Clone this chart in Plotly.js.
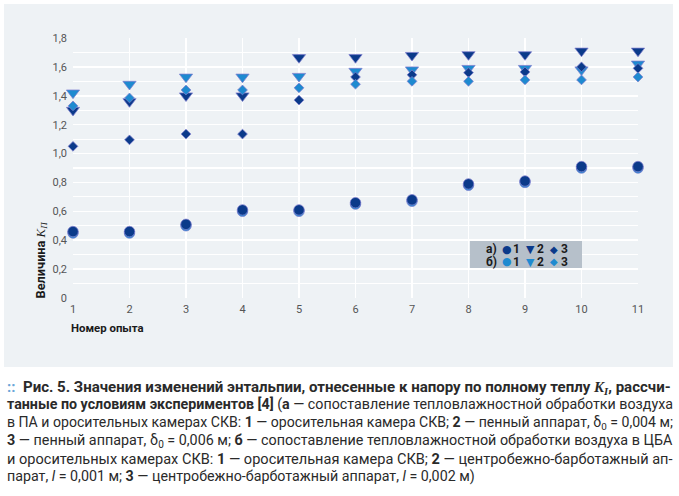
<!DOCTYPE html>
<html>
<head>
<meta charset="utf-8">
<script src="https://cdn.plot.ly/plotly-3.0.1.min.js"></script>
<style>
html,body{margin:0;padding:0;background:#fff;}
#chart{width:679px;height:496px;}
</style>
</head>
<body>
<div id="chart"></div>
<script>
// ---- data ----
var experiments = [1, 2, 3, 4, 5, 6, 7, 8, 9, 10, 11];
var a1 = [0.46, 0.46, 0.51, 0.61, 0.61, 0.66, 0.68, 0.79, 0.81, 0.91, 0.91];
var a2 = [1.30, 1.36, 1.40, 1.40, 1.665, 1.665, 1.68, 1.685, 1.685, 1.71, 1.71];
var a3 = [1.05, 1.095, 1.135, 1.135, 1.37, 1.53, 1.545, 1.56, 1.565, 1.60, 1.59];
var b1 = [0.45, 0.45, 0.50, 0.60, 0.60, 0.65, 0.67, 0.78, 0.80, 0.90, 0.90];
var b2 = [1.42, 1.48, 1.53, 1.53, 1.535, 1.57, 1.58, 1.59, 1.59, 1.58, 1.62];
var b3 = [1.33, 1.385, 1.44, 1.44, 1.455, 1.48, 1.50, 1.50, 1.51, 1.51, 1.53];

var yTickVals = [0, 0.2, 0.4, 0.6, 0.8, 1.0, 1.2, 1.4, 1.6, 1.8];
var yTickText = ['0', '0,2', '0,4', '0,6', '0,8', '1,0', '1,2', '1,4', '1,6', '1,8'];
var xTickVals = experiments;
var legendGroups = ['а)', 'б)'];
var legendNumbers = ['1', '2', '3'];
var legendGlyphs = ['●', '▼', '◆'];

var DARK = '#0b3a8a';
var LIGHT = '#1e8ad0';
var EDGE = 'rgba(125,125,205,0.75)';
var FONT = 'Roboto, "Noto Sans", sans-serif';

function tr(y, sym, color, size, name) {
  return {
    x: experiments, y: y, type: 'scatter', mode: 'markers', name: name,
    cliponaxis: false, showlegend: false, hoverinfo: 'x+y',
    marker: {symbol: sym, color: color, size: size, line: {color: EDGE, width: 1}}
  };
}

var data = [
  tr(a2, 'triangle-down', DARK, 11.5, 'а) 2'),
  tr(b2, 'triangle-down', LIGHT, 11.5, 'б) 2'),
  tr(a3, 'diamond', DARK, 7.5, 'а) 3'),
  tr(b3, 'diamond', LIGHT, 7.5, 'б) 3'),
  tr(b1, 'circle', LIGHT, 10.5, 'б) 1'),
  tr(a1, 'circle', DARK, 10.5, 'а) 1')
];

// paper-coordinate helpers (plot area 73..638 x 38..298 px)
function px(p) { return (p - 73) / 565; }
function py(p) { return (298 - p) / 260; }

var annotations = [];
var fits = []; // [annotation index, target width in px]

function addAnn(o, fitW) {
  o.xref = 'paper'; o.yref = 'paper'; o.showarrow = false;
  annotations.push(o);
  if (fitW) { fits.push([annotations.length - 1, fitW]); }
}

// axis titles
addAnn({x: px(41), y: py(260.5), textangle: -90, xanchor: 'center', yanchor: 'middle',
  text: '<b>Величина </b><i style="font-family:Liberation Serif">K<sub>П</sub></i>',
  font: {family: FONT, size: 14, color: '#1a1a1a'}}, 77);
addAnn({x: px(107.5), y: py(327.5), xanchor: 'center', yanchor: 'middle',
  text: '<b>Номер опыта</b>',
  font: {family: FONT, size: 14, color: '#1a1a1a'}}, 73);

// legend (text + glyphs)
var legX = {label: 484, glyph: [506.5, 530, 554], num: [516.5, 540.5, 564]};
var legY = [249, 261.5];
legendGroups.forEach(function (g, r) {
  var col = r === 0 ? DARK : LIGHT;
  addAnn({x: px(legX.label), y: py(legY[r]), xanchor: 'left', yanchor: 'middle',
    text: '<b>' + g + '</b>', font: {family: FONT, size: 12, color: '#1a1a1a'}});
  legendNumbers.forEach(function (n, k) {
    addAnn({x: px(legX.glyph[k]), y: py(legY[r] + (k === 1 ? 0.5 : 0)), xanchor: 'center', yanchor: 'middle',
      text: legendGlyphs[k], font: {family: 'DejaVu Sans', size: k === 2 ? 10 : 11, color: col}});
    addAnn({x: px(legX.num[k]), y: py(legY[r]), xanchor: 'center', yanchor: 'middle',
      text: '<b>' + n + '</b>', font: {family: FONT, size: 12, color: '#1a1a1a'}});
  });
});

// caption
var captionLines = [
  '<span style="color:#6aa6d8"><b>::</b></span>  <b>Рис. 5. Значения изменений энтальпии, отнесенные к напору по полному теплу <i style="font-family:Liberation Serif">K<sub>I</sub></i>, рассчи-</b>',
  '<b>танные по условиям экспериментов [4]</b> (<b>а</b> — сопоставление тепловлажностной обработки воздуха',
  'в ПА и оросительных камерах СКВ: <b>1</b> — оросительная камера СКВ; <b>2</b> — пенный аппарат, δ<sub>0</sub> = 0,004 м;',
  '<b>3</b> — пенный аппарат, δ<sub>0</sub> = 0,006 м; <b>б</b> — сопоставление тепловлажностной обработки воздуха в ЦБА',
  'и оросительных камерах СКВ: <b>1</b> — оросительная камера СКВ; <b>2</b> — центробежно-барботажный ап-',
  'парат, <i>l</i> = 0,001 м; <b>3</b> — центробежно-барботажный аппарат, <i>l</i> = 0,002 м)'
];
var captionY = [387, 405, 423, 441, 458.5, 476];
var captionW = [664, 666, 666, 666, 666, 468];
captionLines.forEach(function (t, i) {
  addAnn({x: px(5), y: py(captionY[i]), xanchor: 'left', yanchor: 'middle', text: t,
    font: {family: FONT, size: 15, color: '#2a2a2a'}}, captionW[i]);
});

var layout = {
  width: 679, height: 496,
  margin: {l: 73, r: 41, t: 38, b: 198, pad: 0},
  paper_bgcolor: '#ffffff',
  plot_bgcolor: '#c9d3db',
  showlegend: false,
  separators: ', ',
  font: {family: FONT, color: '#4a4a4a', size: 11},
  xaxis: {
    range: [1, 11], tickmode: 'array', tickvals: xTickVals, ticktext: xTickVals.map(String),
    showgrid: true, gridcolor: '#ffffff', gridwidth: 1.5, zeroline: false, showline: false,
    ticks: '', ticklabelstandoff: 3, tickfont: {family: FONT, size: 11, color: '#555'}
  },
  yaxis: {
    range: [0, 1.8], tickmode: 'array', tickvals: yTickVals, ticktext: yTickText,
    showgrid: true, gridcolor: '#ffffff', gridwidth: 1.5, zeroline: false, showline: false,
    ticks: '', ticklabelstandoff: 5, tickfont: {family: FONT, size: 11, color: '#555'},
    minor: {dtick: 0.1, showgrid: true, gridcolor: '#ffffff', gridwidth: 1.2}
  },
  shapes: [
    {type: 'rect', xref: 'paper', yref: 'paper', layer: 'below',
     x0: px(4), x1: px(673), y0: py(367), y1: py(4),
     fillcolor: '#eef2f5', line: {width: 0}},
    {type: 'rect', xref: 'paper', yref: 'paper', layer: 'above',
     x0: px(470), x1: px(582), y0: py(268), y1: py(241),
     fillcolor: '#b6c0ca', line: {width: 0}}
  ],
  annotations: annotations
};

var gd = document.getElementById('chart');
Plotly.newPlot(gd, data, layout, {displayModeBar: false, staticPlot: true}).then(function () {
  // second pass: size each caption/title line so its natural width matches the reference line
  var upd = {};
  fits.forEach(function (f) {
    var t = gd.querySelector('g.annotation[data-index="' + f[0] + '"] text.annotation-text');
    if (!t) return;
    var w = t.getBBox().width;
    if (w > 0) {
      var s = annotations[f[0]].font.size * f[1] / w;
      upd['annotations[' + f[0] + '].font.size'] = Math.round(s * 100) / 100;
    }
  });
  return Plotly.relayout(gd, upd);
});
</script>
</body>
</html>
